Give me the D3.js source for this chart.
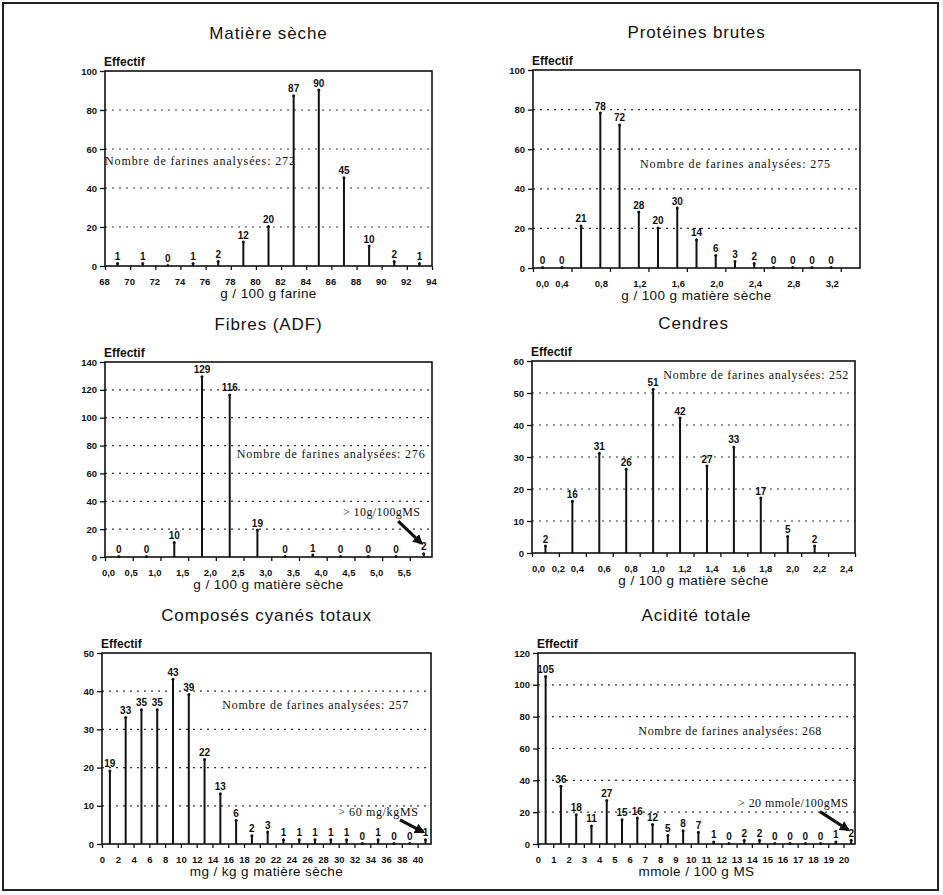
<!DOCTYPE html>
<html><head><meta charset="utf-8">
<script src="https://cdn.jsdelivr.net/npm/d3@7"></script>
<style>body{margin:0;background:#fff}</style>
</head><body>
<svg id="c" width="943" height="895"></svg>
<script>
// ---------- DATA ----------
// Matière sèche
const msCenters = [69,71,73,75,77,79,81,83,85,87,89,91,93];
const msCounts  = [1,1,0,1,2,12,20,87,90,45,10,2,1];
const msXTicks  = [68,70,72,74,76,78,80,82,84,86,88,90,92,94];
const msYTicks  = [0,20,40,60,80,100];
// Protéines brutes
const pbCenters = [0.1,0.3,0.5,0.7,0.9,1.1,1.3,1.5,1.7,1.9,2.1,2.3,2.5,2.7,2.9,3.1];
const pbCounts  = [0,0,21,78,72,28,20,30,14,6,3,2,0,0,0,0];
const pbXTicks  = [0,0.4,0.8,1.2,1.6,2.0,2.4,2.8,3.2];
const pbYTicks  = [0,20,40,60,80,100];
// Fibres (ADF)
const adfCenters = [0.25,0.75,1.25,1.75,2.25,2.75,3.25,3.75,4.25,4.75,5.25,5.75];
const adfCounts  = [0,0,10,129,116,19,0,1,0,0,0,2];
const adfXTicks  = [0,0.5,1,1.5,2,2.5,3,3.5,4,4.5,5,5.5];
const adfYTicks  = [0,20,40,60,80,100,120,140];
// Cendres
const cenCenters = [0.1,0.3,0.5,0.7,0.9,1.1,1.3,1.5,1.7,1.9,2.1];
const cenCounts  = [2,16,31,26,51,42,27,33,17,5,2];
const cenXTicks  = [0,0.2,0.4,0.6,0.8,1.0,1.2,1.4,1.6,1.8,2.0,2.2,2.4];
const cenYTicks  = [0,10,20,30,40,50,60];
// Composés cyanés totaux
const cyCenters = [1,3,5,7,9,11,13,15,17,19,21,23,25,27,29,31,33,35,37,39,41];
const cyCounts  = [19,33,35,35,43,39,22,13,6,2,3,1,1,1,1,1,0,1,0,0,1];
const cyXTicks  = [0,2,4,6,8,10,12,14,16,18,20,22,24,26,28,30,32,34,36,38,40];
const cyYTicks  = [0,10,20,30,40,50];
// Acidité totale
const acCenters = [0.5,1.5,2.5,3.5,4.5,5.5,6.5,7.5,8.5,9.5,10.5,11.5,12.5,13.5,14.5,15.5,16.5,17.5,18.5,19.5,20.5];
const acCounts  = [105,36,18,11,27,15,16,12,5,8,7,1,0,2,2,0,0,0,0,1,2];
const acXTicks  = [0,1,2,3,4,5,6,7,8,9,10,11,12,13,14,15,16,17,18,19,20];
const acYTicks  = [0,20,40,60,80,100,120];

const titles  = ["Matière sèche","Protéines brutes","Fibres (ADF)","Cendres","Composés cyanés totaux","Acidité totale"];
const xTitles = ["g / 100 g farine","g / 100 g matière sèche","g / 100 g matière sèche","g / 100 g matière sèche","mg / kg g matière sèche","mmole / 100 g MS"];
const notes   = ["Nombre de farines analysées: 272","Nombre de farines analysées: 275","Nombre de farines analysées: 276","Nombre de farines analysées: 252","Nombre de farines analysées: 257","Nombre de farines analysées: 268"];
const overNotes = [null,null,"> 10g/100gMS",null,"> 60 mg/kgMS","> 20 mmole/100gMS"];

// ---------- LAYOUT ----------
const dec = d => d3.format(".1f")(d).replace(".", ",");
const intf = d => String(d);
const panels = [
  {c:msCenters, v:msCounts, xt:msXTicks, yt:msYTicks, left:105, right:432, top:71, bottom:266, xd:[68,94], fmt:intf, shift:-1, shift1:-1, first:-1,
   note:{x:68.0,y:51.8,w:190}},
  {c:pbCenters, v:pbCounts, xt:pbXTicks, yt:pbYTicks, left:533, right:860, top:70, bottom:268, xd:[0,3.4], fmt:dec, shift:-9, shift1:-10, first:9,
   note:{x:1.113,y:50.5,w:190}},
  {c:adfCenters, v:adfCounts, xt:adfXTicks, yt:adfYTicks, left:105, right:432, top:362, bottom:557, xd:[0,5.9], fmt:dec, shift:-6, shift1:-2, first:3,
   note:{x:2.376,y:71.1,w:188}, over:{x:4.294,y:29.4,w:77, ax1:5.29, ay1:25.8, ax2:5.71, ay2:9.8}},
  {c:cenCenters, v:cenCounts, xt:cenXTicks, yt:cenYTicks, left:532, right:855, top:361, bottom:553, xd:[0,2.4], fmt:dec, shift:-9, shift1:-1, first:6,
   note:{x:0.976,y:54.4,w:185}},
  {c:cyCenters, v:cyCounts, xt:cyXTicks, yt:cyYTicks, left:102, right:431, top:653, bottom:844, xd:[0,41.7], fmt:intf, shift:0, shift1:0, first:0,
   note:{x:15.25,y:35.3,w:186}, over:{x:29.9,y:7.3,w:80, ax1:37.77, ay1:6.3, ax2:40.72, ay2:3.1}},
  {c:acCenters, v:acCounts, xt:acXTicks, yt:acYTicks, left:538, right:855, top:653, bottom:844, xd:[0,20.75], fmt:intf, shift:0, shift1:0, first:0,
   note:{x:6.57,y:68.5,w:183}, over:{x:13.09,y:23.2,w:110, ax1:18.46, ay1:20.3, ax2:20.31, ay2:8.8}}
];

const svg = d3.select("#c");
svg.append("rect").attr("width",943).attr("height",895).attr("fill","#fff");
svg.append("rect").attr("x",3).attr("y",3).attr("width",935).attr("height",887)
  .attr("fill","none").attr("stroke","#222").attr("stroke-width",2);

const defs = svg.append("defs");
defs.append("marker").attr("id","ah").attr("viewBox","0 0 10 10").attr("refX",8).attr("refY",5)
  .attr("markerWidth",3.2).attr("markerHeight",3.2).attr("orient","auto")
  .append("path").attr("d","M0,0L10,5L0,10z").attr("fill","#111");

panels.forEach((p, i) => {
  const yMax = p.yt[p.yt.length-1];
  const x = d3.scaleLinear().domain(p.xd).range([p.left, p.right]);
  const y = d3.scaleLinear().domain([0, yMax]).range([p.bottom, p.top]);
  const g = svg.append("g");

  // dotted gridlines
  g.selectAll("line.grid").data(p.yt.filter(t => t > 0 && t < yMax)).join("line")
    .attr("x1", p.left).attr("x2", p.right).attr("y1", d => y(d)).attr("y2", d => y(d))
    .attr("stroke", "#333").attr("stroke-width", 1.2).attr("stroke-dasharray", "2,5");

  // frame
  g.append("rect").attr("x", p.left).attr("y", p.top).attr("width", p.right - p.left).attr("height", p.bottom - p.top)
    .attr("fill", "none").attr("stroke", "#111").attr("stroke-width", 1.6);

  // y axis
  const ya = g.append("g").attr("transform", `translate(${p.left},0)`)
    .call(d3.axisLeft(y).tickValues(p.yt).tickSize(5).tickSizeOuter(0).tickPadding(3));
  ya.select(".domain").remove();
  ya.selectAll("line").attr("stroke", "#111").attr("stroke-width", 1.3);
  ya.selectAll("text").attr("font-family", "Liberation Sans, Arial, sans-serif").attr("font-weight", "bold")
    .attr("font-size", 9.5).attr("fill", "#111");

  // x axis
  const xa = g.append("g").attr("transform", `translate(0,${p.bottom})`)
    .call(d3.axisBottom(x).tickValues(p.xt).tickFormat(p.fmt).tickSize(4).tickSizeOuter(0).tickPadding(8));
  xa.select(".domain").remove();
  xa.selectAll("line").attr("stroke", "#111").attr("stroke-width", 1.3);
  xa.selectAll("text").attr("font-family", "Liberation Sans, Arial, sans-serif").attr("font-weight", "bold")
    .attr("font-size", 9.5).attr("fill", "#111")
    .each(function(d, k) {
      const t = d3.select(this);
      t.attr("dx", k === 0 ? p.first : (k === 1 ? p.shift1 : p.shift));
    });

  // bars (thin vertical lines)
  const data = p.c.map((c, k) => ({c, v: p.v[k]}));
  g.selectAll("line.bar").data(data).join("line")
    .attr("x1", d => x(d.c)).attr("x2", d => x(d.c))
    .attr("y1", y(0)).attr("y2", d => y(d.v))
    .attr("stroke", "#111").attr("stroke-width", 2);
  g.selectAll("circle.tip").data(data).join("circle")
    .attr("cx", d => x(d.c)).attr("cy", d => y(d.v) - 0.5).attr("r", 1.5).attr("fill", "#111");
  g.selectAll("text.val").data(data).join("text")
    .attr("x", d => x(d.c)).attr("y", d => y(d.v) - 4)
    .attr("text-anchor", "middle").attr("font-family", "Liberation Sans, Arial, sans-serif")
    .attr("font-weight", "bold").attr("font-size", 10).attr("fill", "#111")
    .text(d => d.v);

  // titles
  const cx = (p.left + p.right) / 2;
  g.append("text").attr("x", cx).attr("y", p.top - 32).attr("text-anchor", "middle")
    .attr("font-family", "Liberation Sans, Arial, sans-serif").attr("font-size", 17).attr("letter-spacing", 0.9)
    .attr("fill", "#111").text(titles[i]);
  g.append("text").attr("x", p.left - 1).attr("y", p.top - 5)
    .attr("font-family", "Liberation Sans, Arial, sans-serif").attr("font-weight", "bold").attr("font-size", 12)
    .attr("fill", "#111").text("Effectif");
  g.append("text").attr("x", cx).attr("y", p.bottom + 32).attr("text-anchor", "middle")
    .attr("font-family", "Liberation Sans, Arial, sans-serif").attr("font-size", 13.5).attr("letter-spacing", 0.4)
    .attr("fill", "#111").text(xTitles[i]);

  // note
  g.append("text").attr("x", x(p.note.x)).attr("y", y(p.note.y))
    .attr("font-family", "Liberation Serif, Times New Roman, serif").attr("font-size", 12)
    .attr("textLength", p.note.w).attr("lengthAdjust", "spacing")
    .attr("fill", "#111").text(notes[i]);

  if (p.over) {
    g.append("text").attr("x", x(p.over.x)).attr("y", y(p.over.y))
      .attr("font-family", "Liberation Serif, Times New Roman, serif").attr("font-size", 12)
      .attr("textLength", p.over.w).attr("lengthAdjust", "spacing")
      .attr("fill", "#111").text(overNotes[i]);
    g.append("line").attr("x1", x(p.over.ax1)).attr("y1", y(p.over.ay1))
      .attr("x2", x(p.over.ax2)).attr("y2", y(p.over.ay2))
      .attr("stroke", "#111").attr("stroke-width", 3.2).attr("marker-end", "url(#ah)");
  }
});
</script>
</body></html>
